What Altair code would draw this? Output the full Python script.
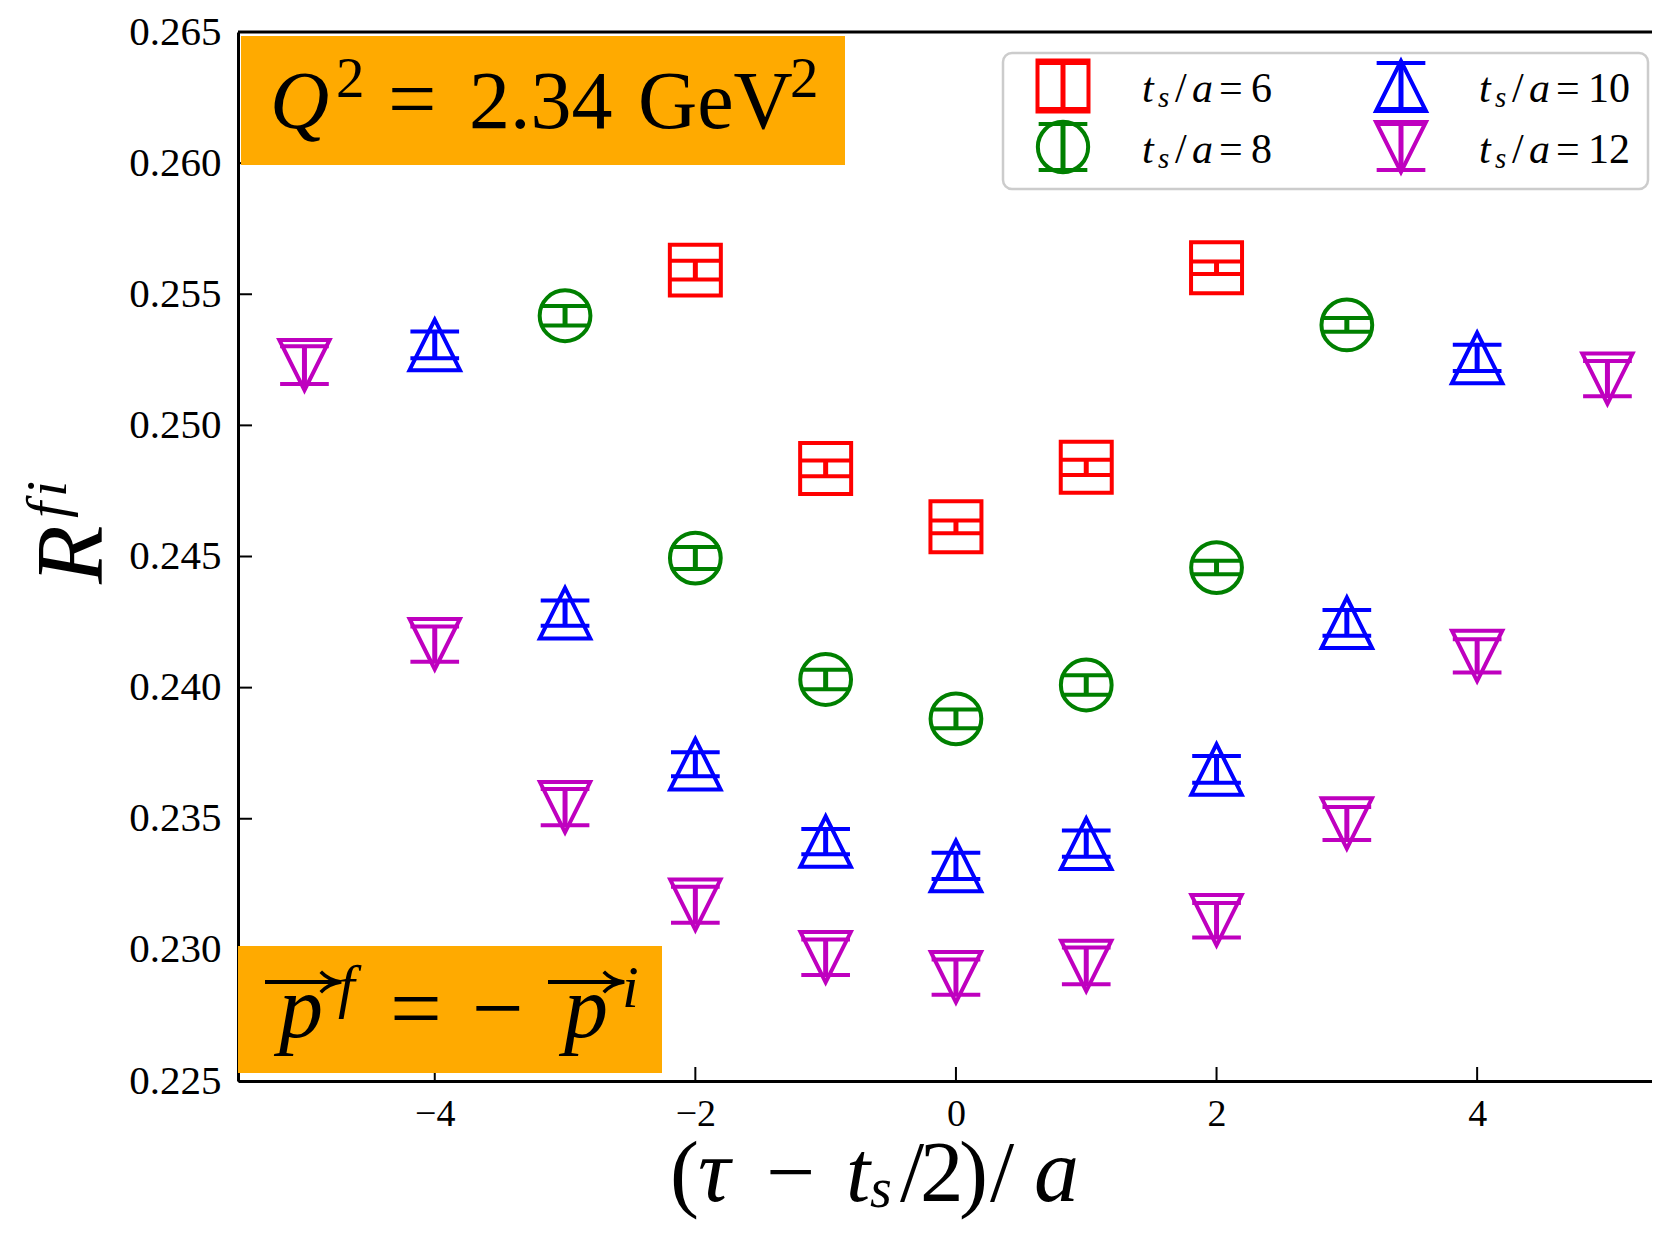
import altair as alt
import pandas as pd

# ---------------- data ----------------
series_names = ["ts6", "ts8", "ts10", "ts12"]
ts_values = ["6", "8", "10", "12"]
colors = ["#FF0000", "#008000", "#0000FF", "#BF00BF"]

x6 = [-2, -1, 0, 1, 2]
y6 = [0.25592, 0.24836, 0.24613, 0.24840, 0.25601]
e6 = [0.00036, 0.00030, 0.00024, 0.00029, 0.00024]

x8 = [-3, -2, -1, 0, 1, 2, 3]
y8 = [0.25418, 0.24494, 0.24031, 0.23881, 0.24010, 0.24458, 0.25383]
e8 = [0.00037, 0.00042, 0.00037, 0.00036, 0.00037, 0.00026, 0.00026]

x10 = [-4, -3, -2, -1, 0, 1, 2, 3, 4]
y10 = [0.25307, 0.24284, 0.23708, 0.23413, 0.23320, 0.23405, 0.23688, 0.24247, 0.25257]
e10 = [0.00051, 0.00048, 0.00046, 0.00048, 0.00050, 0.00050, 0.00051, 0.00049, 0.00050]

x12 = [-5, -4, -3, -2, -1, 0, 1, 2, 3, 4, 5]
y12 = [0.25230, 0.24166, 0.23544, 0.23172, 0.22972, 0.22896, 0.22939, 0.23113, 0.23482, 0.24121, 0.25178]
e12 = [0.00072, 0.00067, 0.00069, 0.00069, 0.00068, 0.00067, 0.00070, 0.00066, 0.00063, 0.00063, 0.00067]

xticks = [-4, -2, 0, 2, 4]
yticks = [0.225, 0.230, 0.235, 0.240, 0.245, 0.250, 0.255, 0.260, 0.265]

# ---------------- layout / style ----------------
FONT = "Liberation Serif"
X0, Y0 = 238, 32          # page position of plot origin
W, H = 1414, 1049
xs = alt.Scale(domain=[-5.51, 5.342], nice=False, zero=False)
ys = alt.Scale(domain=[0.225, 0.265], nice=False, zero=False)

SQ = "M-1,-1L1,-1L1,1L-1,1Z"
TU = "M0,-1L-1,1L1,1Z"
TD = "M0,1L-1,-1L1,-1Z"
shapes = [SQ, "circle", TU, TD]
sizes = [2600, 2530, 2500, 2500]
ARROW = "M-1,-1Q-0.2,-0.15 1,0Q-0.2,0.15 -1,1"

rows = []
for name, xv, yv, ev in zip(series_names, [x6, x8, x10, x12], [y6, y8, y10, y12], [e6, e8, e10, e12]):
    for a, b, c in zip(xv, yv, ev):
        rows.append({"series": name, "x": a, "y": b, "lo": b - c, "hi": b + c})
df = pd.DataFrame(rows)

xaxis = alt.Axis(values=xticks, format="d", title=None, grid=False, ticks=False, tickSize=0,
                 labelFont=FONT, labelFontSize=38, labelColor="black", labelPadding=14,
                 domainColor="black", domainWidth=3, labelFlush=False)
yaxis = alt.Axis(values=yticks, format=".3f", title=None, grid=False, ticks=False, tickSize=0,
                 labelFont=FONT, labelFontSize=41, labelColor="black", labelPadding=17,
                 domainColor="black", domainWidth=3)

color = alt.Color("series:N", scale=alt.Scale(domain=series_names, range=colors), legend=None)
shape = alt.Shape("series:N", scale=alt.Scale(domain=series_names, range=shapes), legend=None)
size = alt.Size("series:N", scale=alt.Scale(domain=series_names, range=sizes), legend=None)

base = alt.Chart(df)
bars = base.mark_rule(strokeWidth=5).encode(
    x=alt.X("x:Q", scale=xs, axis=xaxis),
    y=alt.Y("lo:Q", scale=ys, axis=yaxis),
    y2="hi:Q",
    color=color,
)
caps = base.transform_fold(["lo", "hi"], as_=["end", "yc"]).mark_point(
    shape="stroke", size=2370, strokeWidth=4, filled=False, opacity=1
).encode(
    x=alt.X("x:Q", scale=xs, axis=xaxis),
    y=alt.Y("yc:Q", scale=ys, axis=yaxis),
    color=color,
)
markers = base.mark_point(filled=False, strokeWidth=4, opacity=1).encode(
    x=alt.X("x:Q", scale=xs, axis=xaxis),
    y=alt.Y("y:Q", scale=ys, axis=yaxis),
    color=color, shape=shape, size=size,
)

xt = alt.Chart(pd.DataFrame({"x": xticks})).mark_rule(color="black", strokeWidth=2).encode(
    x=alt.X("x:Q", scale=xs, axis=xaxis), y=alt.value(H), y2=alt.value(H - 14))
yt = alt.Chart(pd.DataFrame({"y": yticks})).mark_rule(color="black", strokeWidth=2).encode(
    y=alt.Y("y:Q", scale=ys, axis=yaxis), x=alt.value(0), x2=alt.value(14))

one = pd.DataFrame({"k": [0]})


def rect(x1, y1, x2, y2, **kw):
    return alt.Chart(one).mark_rect(**kw).encode(
        x=alt.value(x1 - X0), x2=alt.value(x2 - X0), y=alt.value(y1 - Y0), y2=alt.value(y2 - Y0))


def hline(x1, x2, y, w, col="black"):
    return alt.Chart(one).mark_rule(color=col, strokeWidth=w).encode(
        x=alt.value(x1 - X0), x2=alt.value(x2 - X0), y=alt.value(y - Y0))


def vline(x, y1, y2, w, col="black"):
    return alt.Chart(one).mark_rule(color=col, strokeWidth=w).encode(
        x=alt.value(x - X0), y=alt.value(y1 - Y0), y2=alt.value(y2 - Y0))


def glyph(px, py, shp, sz, col, sw, filled=False):
    return alt.Chart(one).mark_point(shape=shp, size=sz, color=col, filled=filled,
                                     strokeWidth=sw, opacity=1).encode(
        x=alt.value(px - X0), y=alt.value(py - Y0))


def seg(text, px, py, fs, italic=False, angle=0):
    return alt.Chart(pd.DataFrame({"t": [text]})).mark_text(
        font=FONT, fontSize=fs, fontStyle="italic" if italic else "normal",
        align="left", baseline="alphabetic", angle=angle, color="black"
    ).encode(text="t:N", x=alt.value(px - X0), y=alt.value(py - Y0))


layers = [bars, caps, markers, xt, yt, hline(X0, X0 + W, Y0, 3)]

# legend
layers.append(rect(1003, 53, 1648, 189, fill="white", stroke="#CCCCCC", strokeWidth=2.5, cornerRadius=9))
leg_pos = [(1063, 86), (1063, 147), (1401, 86), (1401, 147)]
leg_text_x = [1142, 1142, 1479, 1479]
for i, name in enumerate(series_names):
    px, py = leg_pos[i]
    layers.append(vline(px, py - 23, py + 23, 5, colors[i]))
    layers.append(glyph(px, py - 23, "stroke", 2370, colors[i], 4))
    layers.append(glyph(px, py + 23, "stroke", 2370, colors[i], 4))
    layers.append(glyph(px, py, shapes[i], sizes[i], colors[i], 4))
    tx = leg_text_x[i]
    by = py + 16
    layers += [
        seg("t", tx, by, 42, True),
        seg("s", tx + 16, by + 5, 29, True),
        seg("/", tx + 33, by, 42),
        seg("a", tx + 50, by, 42, True),
        seg("=", tx + 77, by, 42),
        seg(ts_values[i], tx + 109, by, 42),
    ]

# Q^2 box
layers.append(rect(241, 36, 845, 165, fill="#FFAA00"))
layers += [
    seg("Q", 270, 128, 82, True),
    seg("2", 336, 97, 57),
    seg("=", 388, 128, 86),
    seg("2.34", 469, 128, 82),
    seg("GeV", 638, 128, 82),
    seg("2", 790, 97, 57),
]

# p box
layers.append(rect(238, 946, 662, 1073, fill="#FFAA00"))
layers += [
    hline(265, 334, 982, 4), glyph(331, 982, ARROW, 420, "black", 3.5),
    seg("p", 279, 1037, 88, True),
    seg("f", 338, 1006, 60, True),
    seg("=", 390, 1039, 92),
    seg("\u2212", 472, 1039, 92),
    hline(548, 617, 982, 4), glyph(614, 982, ARROW, 420, "black", 3.5),
    seg("p", 564, 1037, 88, True),
    seg("i", 622, 1007, 60, True),
]

# x title
XB = 1201
layers += [
    seg("(", 670, XB, 87),
    seg("\u03c4", 698, XB, 90, True),
    seg("\u2212", 766, XB, 87),
    seg("t", 846, XB, 87, True),
    seg("s", 870, XB + 6, 56, True),
    seg("/", 900, XB, 87),
    seg("2", 920, XB, 87),
    seg(")", 959, XB, 87),
    seg("/", 990, XB, 87),
    seg("a", 1034, XB, 90, True),
]

# y title
layers += [
    seg("R", 102, 584, 96, True, 270),
    seg("f", 66, 518, 58, True, 270),
    seg("i", 66, 497, 58, True, 270),
]

chart = alt.layer(*layers).properties(
    width=W, height=H,
    autosize=alt.AutoSizeParams(type="none"),
    padding={"left": X0 - 8, "top": Y0 - 8, "right": 0, "bottom": 141},
).configure_view(stroke=None)

chart.save("out.html", embed_options={"renderer": "svg", "actions": False})
